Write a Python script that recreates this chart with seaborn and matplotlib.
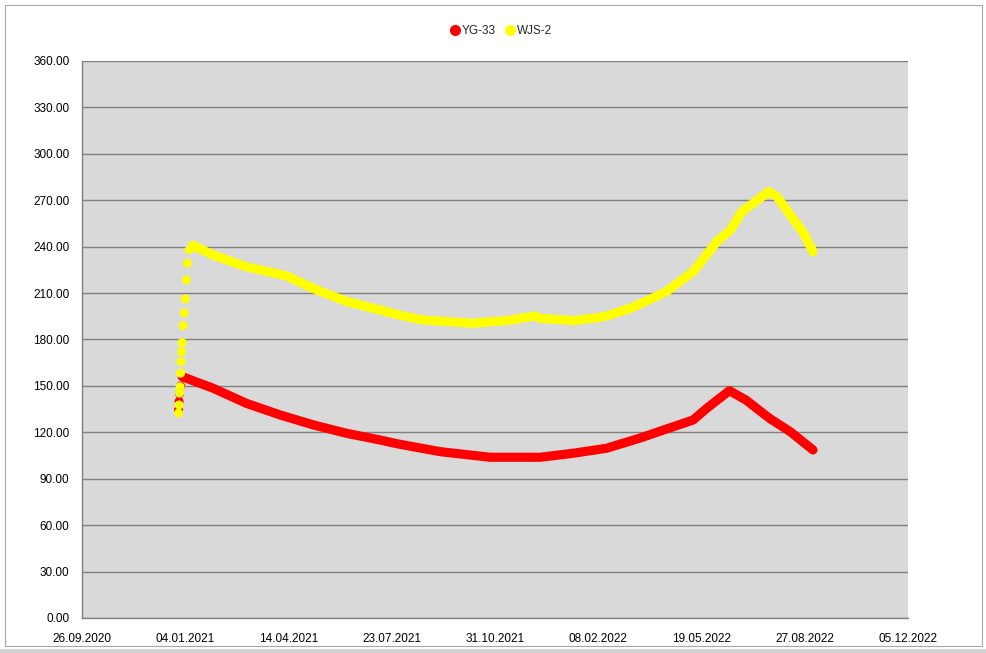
import matplotlib
matplotlib.use("Agg")
import matplotlib.pyplot as plt
import matplotlib.dates as mdates
from matplotlib.lines import Line2D
from matplotlib.patches import Rectangle
import seaborn as sns
import pandas as pd

# ---- data ----
yg_rise_dates = ["2020-12-28 12:00", "2020-12-29 00:00", "2020-12-29 12:00", "2020-12-30 12:00"]
yg_rise_vals = [134.5, 140.0, 145.0, 150.0]

yg_dates = ["2021-01-01", "2021-01-31", "2021-03-04", "2021-04-06", "2021-05-08",
            "2021-06-09", "2021-07-12", "2021-07-29", "2021-09-08", "2021-10-26",
            "2021-12-14", "2022-01-15", "2022-02-16", "2022-03-20", "2022-04-22",
            "2022-05-11", "2022-05-24", "2022-06-15", "2022-07-01", "2022-07-24",
            "2022-08-13", "2022-09-04"]
yg_vals = [156.0, 148.5, 138.8, 131.2, 124.8,
           119.4, 115.0, 112.5, 107.5, 103.9,
           103.9, 106.5, 109.7, 116.2, 123.7,
           128.0, 135.5, 146.9, 140.9, 129.0,
           120.4, 108.6]

wjs_rise_dates = ["2020-12-28 12:00", "2020-12-29 00:00", "2020-12-29 12:00", "2020-12-30 00:00",
                  "2020-12-30 12:00", "2020-12-31 00:00", "2020-12-31 12:00", "2021-01-01 00:00",
                  "2021-01-02 00:00", "2021-01-03 00:00", "2021-01-04 00:00", "2021-01-05 00:00",
                  "2021-01-06 00:00", "2021-01-08 00:00"]
wjs_rise_vals = [132.5, 137.7, 145.4, 149.5, 158.2, 165.7, 172.1, 178.0,
                 189.0, 197.2, 206.2, 218.5, 229.3, 238.0]

wjs_dates = ["2021-01-11", "2021-01-31", "2021-03-04", "2021-03-24", "2021-04-12",
             "2021-05-08", "2021-06-09", "2021-07-12", "2021-07-29", "2021-08-22",
             "2021-10-10", "2021-11-11", "2021-12-09", "2021-12-14", "2022-01-15",
             "2022-02-10", "2022-02-16", "2022-03-11", "2022-03-29", "2022-04-15",
             "2022-05-11", "2022-06-03", "2022-06-16", "2022-06-27", "2022-07-08",
             "2022-07-23", "2022-07-31", "2022-08-13", "2022-08-26", "2022-09-04"]
wjs_vals = [241.0, 234.6, 227.0, 224.0, 221.1,
            213.0, 204.6, 199.0, 196.0, 192.6,
            190.5, 192.2, 195.2, 193.7, 192.2,
            194.4, 195.2, 200.2, 205.6, 211.0,
            223.9, 243.4, 250.8, 262.6, 268.0,
            275.6, 272.4, 260.5, 248.7, 236.8]

series_names = ["YG-33", "WJS-2"]
series_colors = ["#FF0000", "#FFFF00"]
x_ticks = ["2020-09-26", "2021-01-04", "2021-04-14", "2021-07-23", "2021-10-31",
           "2022-02-08", "2022-05-19", "2022-08-27", "2022-12-05"]
y_ticks = list(range(0, 361, 30))

# ---- style ----
sns.set_style("white", {"axes.facecolor": "#D9D9D9"})
plt.rcParams["font.family"] = ["Liberation Sans", "DejaVu Sans"]

fig = plt.figure(figsize=(9.87, 6.53), dpi=100)
fig.patch.set_facecolor("white")
# outer chart frame and bottom strip
fig.add_artist(Rectangle((5 / 987, 1 - 646 / 653), 977 / 987, 641 / 653, transform=fig.transFigure,
                         fill=False, edgecolor="#A6A6A6", lw=0.8))
fig.add_artist(Rectangle((0, 0), 1, 4 / 653, transform=fig.transFigure,
                         facecolor="#D4D4D4", edgecolor="none"))

ax = fig.add_axes([82 / 987, 1 - 618 / 653, 826 / 987, 557 / 653])
ax.set_facecolor("#D9D9D9")

def frame(dates, vals):
    return pd.DataFrame({"date": pd.to_datetime(dates), "value": vals})

red_rise = frame(yg_rise_dates, yg_rise_vals)
red_main = frame(yg_dates, yg_vals)
yel_rise = frame(wjs_rise_dates, wjs_rise_vals)
yel_main = frame(wjs_dates, wjs_vals)

lw = 6.6
ms = 42
# red series
sns.scatterplot(data=red_rise, x="date", y="value", color=series_colors[0], s=ms,
                edgecolor="none", ax=ax, zorder=3)
sns.lineplot(data=red_main, x="date", y="value", color=series_colors[0], lw=lw,
             sort=False, ax=ax, zorder=3, solid_capstyle="round", solid_joinstyle="round")
# yellow series
sns.scatterplot(data=yel_rise, x="date", y="value", color=series_colors[1], s=ms,
                edgecolor="none", ax=ax, zorder=4)
sns.lineplot(data=yel_main, x="date", y="value", color=series_colors[1], lw=lw,
             sort=False, ax=ax, zorder=4, solid_capstyle="round", solid_joinstyle="round")

# axes
xt = pd.to_datetime(x_ticks)
ax.set_xlim(xt[0], xt[-1])
ax.set_xticks(xt)
ax.xaxis.set_major_formatter(mdates.DateFormatter("%d.%m.%Y"))
ax.set_ylim(0, 360)
ax.set_yticks(y_ticks)
ax.set_yticklabels([f"{v:.2f}" for v in y_ticks])
ax.set_xlabel("")
ax.set_ylabel("")
ax.grid(axis="y", color="#808080", lw=1.0)
ax.grid(axis="x", visible=False)
ax.set_axisbelow(True)
for s in ["top", "right"]:
    ax.spines[s].set_visible(False)
for s in ["left", "bottom"]:
    ax.spines[s].set_color("#808080")
    ax.spines[s].set_linewidth(1.0)
ax.tick_params(axis="both", direction="out", length=5, width=1, color="#808080",
               labelsize=8.5, labelcolor="black")
ax.tick_params(axis="x", pad=6)
ax.tick_params(axis="y", pad=4)

handles = [Line2D([], [], marker="o", ls="none", color=c, markersize=7) for c in series_colors]
fig.legend(handles, series_names, loc="center", bbox_to_anchor=(500 / 987, 1 - 31 / 653),
           ncol=2, frameon=False, fontsize=8.5, handletextpad=0.0, columnspacing=0.6,
           handlelength=1.2)

fig.savefig("out.png", dpi=100)
